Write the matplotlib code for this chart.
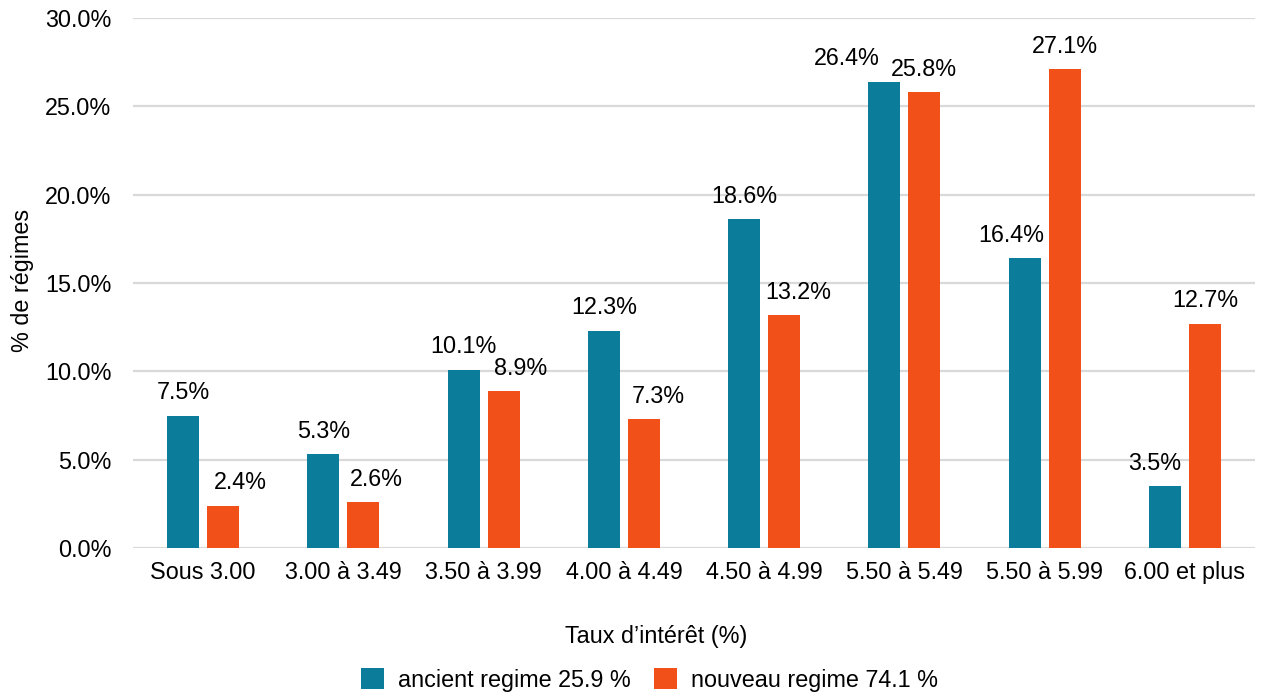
import numpy as np
import matplotlib.pyplot as plt
from matplotlib.ticker import FuncFormatter

plt.rcParams['font.family'] = ['Liberation Sans', 'DejaVu Sans']
FS = 16.8

# --- Data ---
categories = ["Sous 3.00", "3.00 à 3.49", "3.50 à 3.99", "4.00 à 4.49",
              "4.50 à 4.99", "5.50 à 5.49", "5.50 à 5.99", "6.00 et plus"]
ancien = [7.5, 5.3, 10.1, 12.3, 18.6, 26.4, 16.4, 3.5]
nouveau = [2.4, 2.6, 8.9, 7.3, 13.2, 25.8, 27.1, 12.7]
series_names = ["ancient regime 25.9 %", "nouveau regime 74.1 %"]

# horizontal nudges of the value labels (points) so neighbours don't collide
nudge_ancien = [0, 0, 0, 0, 0, -27, -9.5, -7]
nudge_nouveau = [12, 9.5, 12, 10, 10, 0, 0, 0]

teal = "#0B7D9A"
orange = "#F15119"

x = np.arange(len(categories))
w = 0.228
off = 0.143

fig = plt.figure(figsize=(12.67, 6.93), dpi=100)
ax = fig.add_axes([0.105, 0.2092, 0.8855, 0.7648])

b1 = ax.bar(x - off, ancien, w, color=teal, label=series_names[0], zorder=3)
b2 = ax.bar(x + off, nouveau, w, color=orange, label=series_names[1], zorder=3)

for bars, vals, nudges in ((b1, ancien, nudge_ancien), (b2, nouveau, nudge_nouveau)):
    for rect, v, dx in zip(bars, vals, nudges):
        ax.annotate(f"{v:.1f}%", (rect.get_x() + rect.get_width() / 2, v),
                    xytext=(dx, 11.7), textcoords="offset points",
                    ha="center", va="baseline", fontsize=FS, zorder=4)

ax.set_ylim(0, 30)
ax.set_xlim(-0.5, len(categories) - 0.5)
ax.set_yticks(np.arange(0, 30.1, 5))
ax.yaxis.set_major_formatter(FuncFormatter(lambda v, p: f"{v:.1f}%"))
ax.set_xticks(x)
ax.set_xticklabels(categories)
ax.tick_params(axis="both", length=0, labelsize=FS)
ax.tick_params(axis="y", pad=15.5)
ax.tick_params(axis="x", pad=9)

ax.grid(axis="y", color="#D9D9D9", linewidth=1.6, zorder=0)
for s in ax.spines.values():
    s.set_visible(False)

ax.set_ylabel("% de régimes", fontsize=FS)
ax.yaxis.label.set_va("center")
ax.yaxis.set_label_coords(-0.0989, 0.505)

ax.set_xlabel("Taux d’intérêt (%)", fontsize=FS)
ax.xaxis.label.set_va("baseline")
ax.xaxis.set_label_coords(0.466, -(643 - 548) / 530)

fig.legend(handles=[b1, b2], loc="center", bbox_to_anchor=(0.5126, 0.019),
           ncol=2, frameon=False, fontsize=FS, handlelength=1.0,
           handleheight=1.0, columnspacing=1.0, handletextpad=0.6,
           borderpad=0.2)

plt.savefig("out.png", dpi=100)
